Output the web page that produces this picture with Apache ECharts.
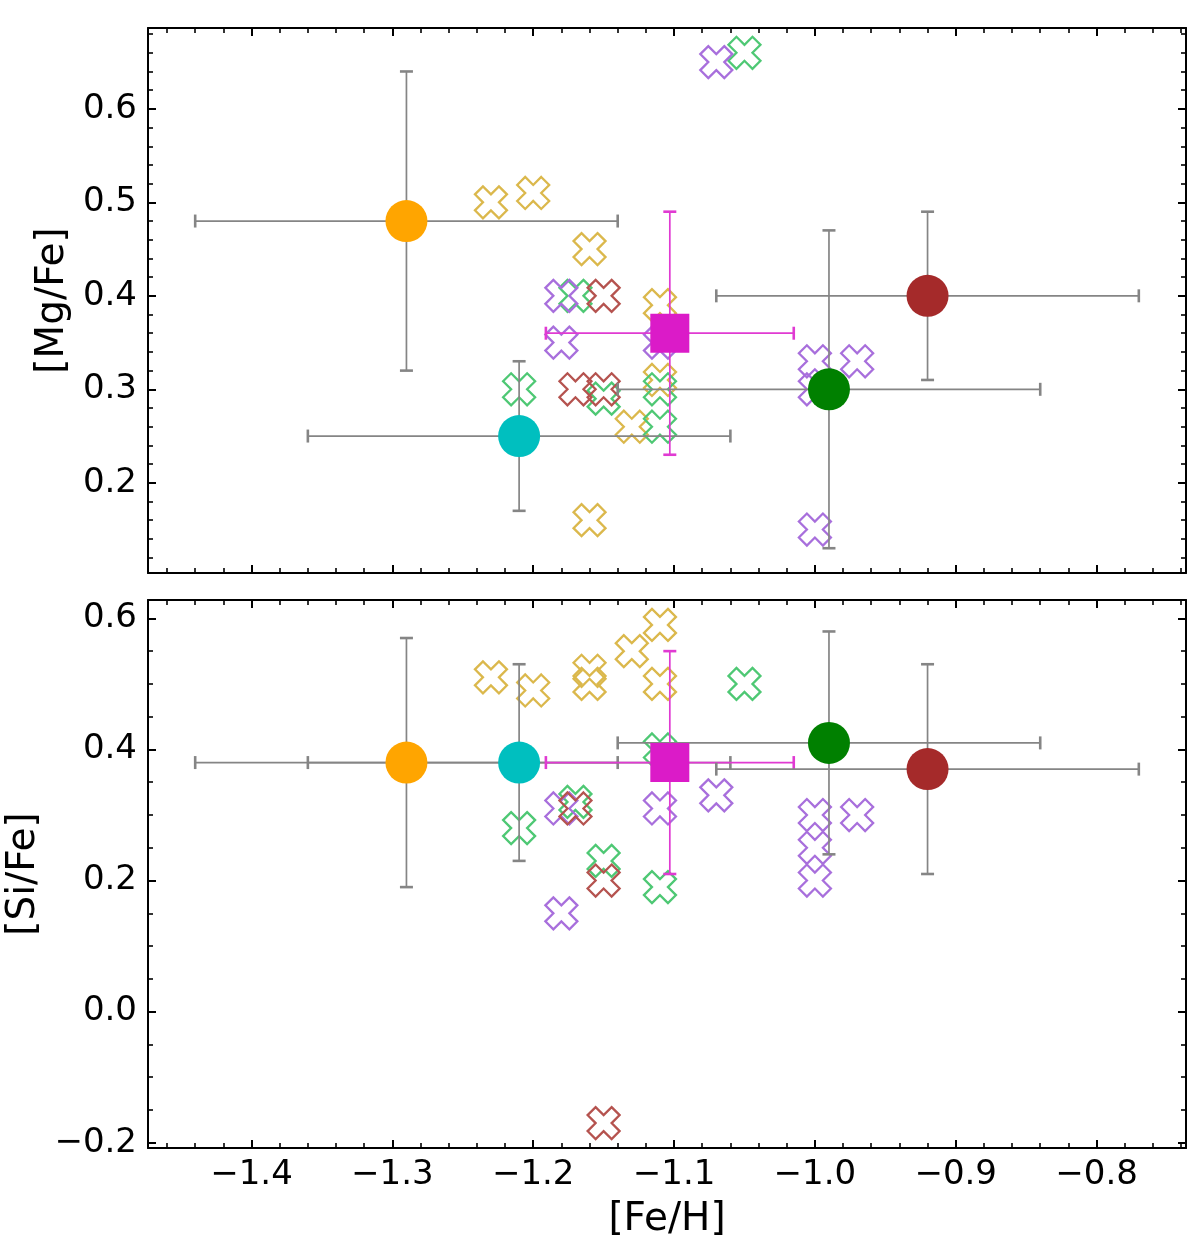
<!DOCTYPE html>
<html>
<head>
<meta charset="utf-8">
<script src="https://cdn.jsdelivr.net/npm/echarts@6/dist/echarts.min.js"></script>
<style>
html,body{margin:0;padding:0;background:#ffffff;}
#chart{width:1200px;height:1243px;}
</style>
</head>
<body>
<div id="chart"></div>
<script>
// ---------------- DATA ----------------
// Reference (large) markers: orange, cyan, magenta square, green, brown
const bigFeH     = [-1.29, -1.21, -1.103, -0.99, -0.92];
const bigFeHErr  = [0.15, 0.15, 0.088, 0.15, 0.15];
const bigMgFe    = [0.48, 0.25, 0.36, 0.30, 0.40];
const bigMgFeErr = [0.16, 0.08, 0.13, 0.17, 0.09];
const bigSiFe    = [0.38, 0.38, 0.38, 0.41, 0.37];
const bigSiFeErr = [0.19, 0.15, 0.17, 0.17, 0.16];

// Individual stars ([Fe/H], [X/Fe]) - open crosses
const yellowMg = [[-1.23,0.50],[-1.20,0.51],[-1.16,0.45],[-1.11,0.39],[-1.11,0.31],[-1.13,0.26],[-1.16,0.16]];
const greenMg  = [[-1.05,0.66],[-1.17,0.40],[-1.21,0.30],[-1.15,0.29],[-1.11,0.30],[-1.11,0.26]];
const purpleMg = [[-1.07,0.65],[-1.18,0.40],[-1.18,0.35],[-1.11,0.35],[-1.00,0.33],[-0.97,0.33],[-1.00,0.30],[-1.00,0.15]];
const brownMg  = [[-1.15,0.40],[-1.17,0.30],[-1.15,0.30]];

const yellowSi = [[-1.11,0.59],[-1.13,0.55],[-1.23,0.51],[-1.20,0.49],[-1.16,0.52],[-1.16,0.50],[-1.11,0.50]];
const greenSi  = [[-1.05,0.50],[-1.11,0.40],[-1.17,0.32],[-1.21,0.28],[-1.15,0.23],[-1.11,0.19]];
const purpleSi = [[-1.07,0.33],[-1.11,0.31],[-1.18,0.31],[-1.00,0.30],[-0.97,0.30],[-1.00,0.25],[-1.00,0.20],[-1.18,0.15]];
const brownSi  = [[-1.17,0.31],[-1.15,0.20],[-1.15,-0.17]];

// Axis ranges and tick steps
const xRange   = [-1.4735, -0.7365];
const mgRange  = [0.1035, 0.6865];
const siRange  = [-0.208, 0.628];
const xStep = [0.1, 0.02];
const mgStep = [0.1, 0.02];
const siStep = [0.2, 0.05];
const xTitle = '[Fe/H]';
const mgTitle = '[Mg/Fe]';
const siTitle = '[Si/Fe]';

// ---------------- STYLE ----------------
const FONT = 'DejaVu Sans';
const bigColors  = ['#FFA500', '#00BFBF', '#DB1BC8', '#008000', '#A52A2A'];
const bigShapes  = ['circle', 'circle', 'rect', 'circle', 'circle'];
const bigSizes   = [42, 42, 39, 42, 42];
const errColors  = ['#858585', '#858585', '#E03AD2', '#858585', '#858585'];
const crossColors = {yellow:'#DBB84C', green:'#4EC874', purple:'#A86FDC', brown:'#B5534F'};

function crossPath() {
  const v = [[-1,-3],[1,-3],[1,-1],[3,-1],[3,1],[1,1],[1,3],[-1,3],[-1,1],[-3,1],[-3,-1],[-1,-1]];
  const c = Math.SQRT1_2;
  return 'path://' + v.map((p, i) => (i ? 'L' : 'M') + ((p[0] - p[1]) * c).toFixed(4) + ' ' + ((p[0] + p[1]) * c).toFixed(4)).join(' ') + ' Z';
}
const CROSS = crossPath();

const fmt = v => v.toFixed(1).replace('-', '\u2212');

const grids = [
  {left: 148, top: 28, width: 1038, height: 545, containLabel: false, outerBoundsMode: 'none'},
  {left: 148, top: 600, width: 1038, height: 548, containLabel: false, outerBoundsMode: 'none'}
];

function xAxesFor(g, withLabels) {
  const base = {type: 'value', gridIndex: g, min: xRange[0], max: xRange[1], splitLine: {show: false}};
  const line = {show: true, onZero: false, lineStyle: {color: '#000', width: 2}};
  const major = {inside: true, length: 8, lineStyle: {color: '#000', width: 2}};
  const minor = {inside: true, length: 5, lineStyle: {color: '#000', width: 1.6}};
  const lab = {show: withLabels, fontFamily: FONT, fontSize: 34, color: '#000', margin: 10,
               showMinLabel: false, showMaxLabel: false, formatter: fmt};
  return [
    Object.assign({}, base, {position: 'bottom', minInterval: xStep[0], maxInterval: xStep[0], axisLine: line, axisTick: major, axisLabel: lab,
      name: withLabels ? xTitle : '', nameLocation: 'middle', nameGap: 52,
      nameTextStyle: {fontFamily: FONT, fontSize: 39, color: '#000'}}),
    Object.assign({}, base, {position: 'bottom', minInterval: xStep[1], maxInterval: xStep[1], axisLine: {show: false, onZero: false}, axisTick: minor, axisLabel: {show: false}}),
    Object.assign({}, base, {position: 'top', minInterval: xStep[0], maxInterval: xStep[0], axisLine: line, axisTick: major, axisLabel: {show: false}}),
    Object.assign({}, base, {position: 'top', minInterval: xStep[1], maxInterval: xStep[1], axisLine: {show: false, onZero: false}, axisTick: minor, axisLabel: {show: false}})
  ];
}

function yAxesFor(g, range, step, title, gap) {
  const base = {type: 'value', gridIndex: g, min: range[0], max: range[1], splitLine: {show: false}};
  const line = {show: true, onZero: false, lineStyle: {color: '#000', width: 2}};
  const major = {inside: true, length: 8, lineStyle: {color: '#000', width: 2}};
  const minor = {inside: true, length: 5, lineStyle: {color: '#000', width: 1.6}};
  const lab = {show: true, fontFamily: FONT, fontSize: 34, color: '#000', margin: 11,
               showMinLabel: false, showMaxLabel: false, formatter: fmt};
  return [
    Object.assign({}, base, {position: 'left', minInterval: step[0], maxInterval: step[0], axisLine: line, axisTick: major, axisLabel: lab,
      name: title, nameLocation: 'middle', nameGap: gap,
      nameTextStyle: {fontFamily: FONT, fontSize: 39, color: '#000'}}),
    Object.assign({}, base, {position: 'left', minInterval: step[1], maxInterval: step[1], axisLine: {show: false, onZero: false}, axisTick: minor, axisLabel: {show: false}}),
    Object.assign({}, base, {position: 'right', minInterval: step[0], maxInterval: step[0], axisLine: line, axisTick: major, axisLabel: {show: false}}),
    Object.assign({}, base, {position: 'right', minInterval: step[1], maxInterval: step[1], axisLine: {show: false, onZero: false}, axisTick: minor, axisLabel: {show: false}})
  ];
}

function crossSeries(g, data, color) {
  return {
    type: 'scatter', xAxisIndex: g * 4, yAxisIndex: g * 4, data: data,
    symbol: CROSS, symbolSize: 32, z: 2, silent: true,
    itemStyle: {color: 'rgba(0,0,0,0)', borderColor: color, borderWidth: 2.3, opacity: 1}
  };
}

function errRender(params, api) {
  const x = api.value(0), y = api.value(1), ex = api.value(2), ey = api.value(3);
  const col = errColors[params.dataIndex];
  const l = api.coord([x - ex, y]), r = api.coord([x + ex, y]);
  const t = api.coord([x, y + ey]), b = api.coord([x, y - ey]);
  const cap = 6.5;
  const st = {stroke: col, lineWidth: 1.7};
  const cs = {stroke: col, lineWidth: 2.6};
  return {type: 'group', children: [
    {type: 'line', shape: {x1: l[0], y1: l[1], x2: r[0], y2: r[1]}, style: st},
    {type: 'line', shape: {x1: t[0], y1: t[1], x2: b[0], y2: b[1]}, style: st},
    {type: 'line', shape: {x1: l[0], y1: l[1] - cap, x2: l[0], y2: l[1] + cap}, style: cs},
    {type: 'line', shape: {x1: r[0], y1: r[1] - cap, x2: r[0], y2: r[1] + cap}, style: cs},
    {type: 'line', shape: {x1: t[0] - cap, y1: t[1], x2: t[0] + cap, y2: t[1]}, style: cs},
    {type: 'line', shape: {x1: b[0] - cap, y1: b[1], x2: b[0] + cap, y2: b[1]}, style: cs}
  ]};
}

function errSeries(g, yv, ye) {
  return {
    type: 'custom', xAxisIndex: g * 4, yAxisIndex: g * 4, z: 3, silent: true, clip: false,
    renderItem: errRender,
    encode: {x: 0, y: 1},
    data: bigFeH.map((x, i) => [x, yv[i], bigFeHErr[i], ye[i]])
  };
}

function bigSeries(g, yv) {
  return {
    type: 'scatter', xAxisIndex: g * 4, yAxisIndex: g * 4, z: 4, silent: true,
    data: bigFeH.map((x, i) => ({
      value: [x, yv[i]], symbol: bigShapes[i], symbolSize: bigSizes[i],
      itemStyle: {color: bigColors[i], opacity: 1}, z: bigShapes[i] === 'rect' ? 5 : 4
    }))
  };
}

const option = {
  animation: false,
  backgroundColor: '#ffffff',
  grid: grids,
  xAxis: [].concat(xAxesFor(0, false), xAxesFor(1, true)),
  yAxis: [].concat(yAxesFor(0, mgRange, mgStep, mgTitle, 68), yAxesFor(1, siRange, siStep, siTitle, 89)),
  series: [
    crossSeries(0, yellowMg, crossColors.yellow),
    crossSeries(0, greenMg, crossColors.green),
    crossSeries(0, purpleMg, crossColors.purple),
    crossSeries(0, brownMg, crossColors.brown),
    errSeries(0, bigMgFe, bigMgFeErr),
    bigSeries(0, bigMgFe),
    crossSeries(1, yellowSi, crossColors.yellow),
    crossSeries(1, greenSi, crossColors.green),
    crossSeries(1, purpleSi, crossColors.purple),
    crossSeries(1, brownSi, crossColors.brown),
    errSeries(1, bigSiFe, bigSiFeErr),
    bigSeries(1, bigSiFe)
  ]
};

const chart = echarts.init(document.getElementById('chart'), null, {renderer: 'canvas'});
chart.setOption(option);
</script>
</body>
</html>
